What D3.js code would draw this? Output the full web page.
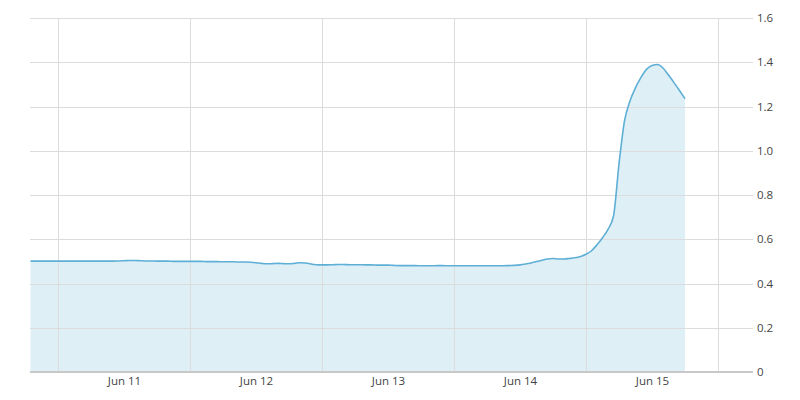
<!DOCTYPE html>
<html>
<head>
<meta charset="utf-8">
<script src="https://cdn.jsdelivr.net/npm/d3@7/dist/d3.min.js"></script>
<style>
  html, body { margin: 0; padding: 0; background: #fff; }
  svg { display: block; }
  text { font-family: "Open Sans", "Noto Sans", sans-serif; font-size: 11.5px; fill: #444; }
</style>
</head>
<body>
<svg id="chart" width="800" height="400"></svg>
<script>
// Hourly readings starting Jun 10 19:00
const startTime = new Date(2016, 5, 10, 19, 0);
const values = [
  0.501, 0.501, 0.501, 0.501, 0.501, 0.501, 0.501, 0.501, 0.501, 0.501,
  0.501, 0.501, 0.501, 0.501, 0.501, 0.501, 0.502, 0.503, 0.504, 0.504,
  0.503, 0.502, 0.502, 0.501, 0.501, 0.501, 0.500, 0.500, 0.500, 0.500,
  0.500, 0.500, 0.499, 0.499, 0.499, 0.498, 0.498, 0.498, 0.497, 0.497,
  0.496, 0.494, 0.491, 0.489, 0.490, 0.491, 0.490, 0.489, 0.491, 0.494,
  0.493, 0.488, 0.485, 0.484, 0.484, 0.485, 0.486, 0.486, 0.485, 0.485,
  0.485, 0.484, 0.484, 0.483, 0.483, 0.483, 0.482, 0.481, 0.481, 0.481,
  0.481, 0.480, 0.480, 0.480, 0.481, 0.481, 0.480, 0.480, 0.480, 0.480,
  0.480, 0.480, 0.480, 0.480, 0.480, 0.480, 0.480, 0.481, 0.482, 0.484,
  0.488, 0.493, 0.499, 0.505, 0.511, 0.513, 0.511, 0.511, 0.513, 0.516,
  0.522, 0.532, 0.548, 0.575, 0.607, 0.645, 0.705, 0.940, 1.135, 1.225,
  1.285, 1.332, 1.368, 1.385, 1.390, 1.374, 1.342, 1.308, 1.272, 1.235
];
const yTicks = [0, 0.2, 0.4, 0.6, 0.8, 1.0, 1.2, 1.4, 1.6];
const dayGridDates = [11, 12, 13, 14, 15, 16].map(d => new Date(2016, 5, d));
const dayLabels = ["Jun 11", "Jun 12", "Jun 13", "Jun 14", "Jun 15"];
const labelDates = [11, 12, 13, 14, 15].map(d => new Date(2016, 5, d, 12));

const data = values.map((v, i) => ({ t: d3.timeHour.offset(startTime, i), v }));

const svg = d3.select("#chart");
const plotLeft = 30, plotRight = 753, plotTop = 18, plotBottom = 372;

// Jun 11 00:00 -> 58px, Jun 16 00:00 -> 718px
const x = d3.scaleTime()
  .domain([new Date(2016, 5, 11), new Date(2016, 5, 16)])
  .range([58, 718]);
const y = d3.scaleLinear().domain([0, 1.6]).range([plotBottom, plotTop]);

// area
const area = d3.area().curve(d3.curveMonotoneX).x(d => x(d.t)).y0(y(0)).y1(d => y(d.v));
svg.append("path").datum(data)
  .attr("d", area)
  .attr("fill", "#5aaed4")
  .attr("fill-opacity", 0.2);

// horizontal gridlines
svg.append("g").selectAll("line").data(yTicks.filter(t => t > 0)).join("line")
  .attr("x1", plotLeft).attr("x2", plotRight)
  .attr("y1", d => Math.round(y(d)) + 0.5).attr("y2", d => Math.round(y(d)) + 0.5)
  .attr("stroke", "#dcdcdc").attr("stroke-width", 1);

// vertical gridlines
svg.append("g").selectAll("line").data(dayGridDates).join("line")
  .attr("x1", d => Math.round(x(d)) + 0.5).attr("x2", d => Math.round(x(d)) + 0.5)
  .attr("y1", plotTop).attr("y2", plotBottom)
  .attr("stroke", "#dcdcdc").attr("stroke-width", 1);

// line
const line = d3.line().curve(d3.curveMonotoneX).x(d => x(d.t)).y(d => y(d.v));
svg.append("path").datum(data)
  .attr("d", line)
  .attr("fill", "none")
  .attr("stroke", "#5eafd6")
  .attr("stroke-width", 1.6)
  .attr("stroke-linejoin", "round");

// baseline
svg.append("line")
  .attr("x1", plotLeft).attr("x2", plotRight)
  .attr("y1", y(0)).attr("y2", y(0))
  .attr("stroke", "#c8c8c8").attr("stroke-width", 2);

// y labels
const yAxis = d3.axisRight(y).tickValues(yTicks).tickSize(0).tickPadding(0)
  .tickFormat(d => d === 0 ? "0" : d.toFixed(1));
const gy = svg.append("g").attr("transform", `translate(757,0)`).call(yAxis);
gy.select(".domain").remove();
gy.selectAll("text").attr("fill", "#3a3a3a").style("font-size", "11.5px")
  .attr("font-family", null);

// x labels
const xAxis = d3.axisBottom(x).tickValues(labelDates).tickSize(0).tickPadding(0)
  .tickFormat((d, i) => dayLabels[i]);
const gx = svg.append("g").attr("transform", `translate(0,377)`).call(xAxis);
gx.select(".domain").remove();
gx.selectAll("text").attr("fill", "#3a3a3a").style("font-size", "11.5px")
  .attr("font-family", null);
</script>
</body>
</html>
